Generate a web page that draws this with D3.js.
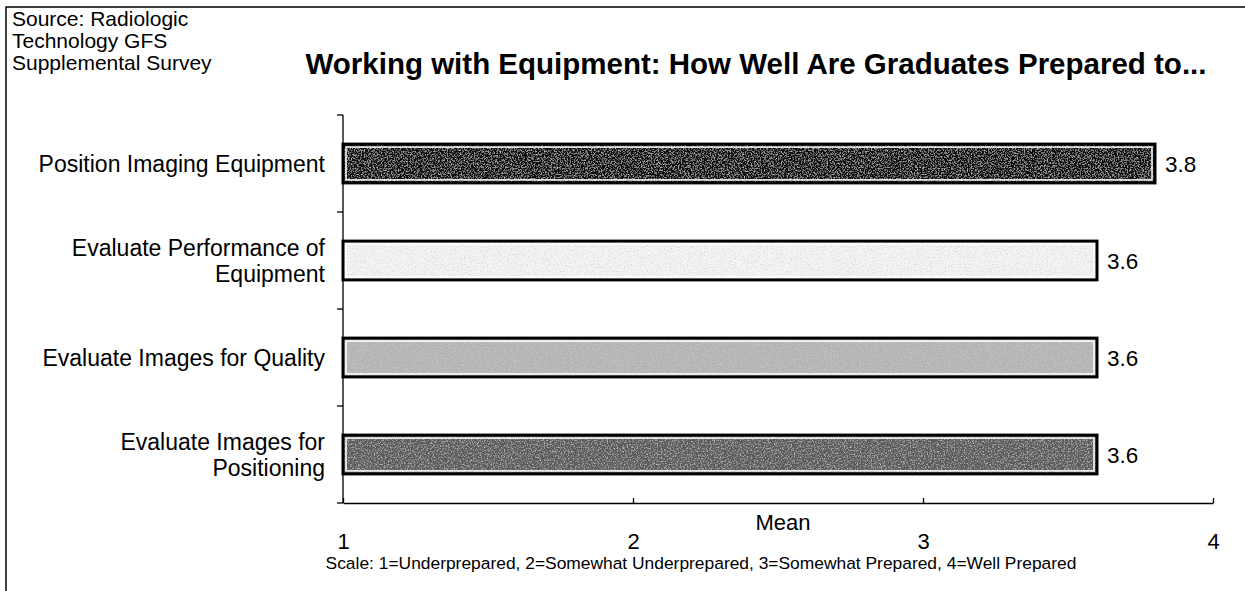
<!DOCTYPE html>
<html>
<head>
<meta charset="utf-8">
<script src="https://cdn.jsdelivr.net/npm/d3@7"></script>
<style>
  body { margin: 0; background: #fff; }
  svg { font-family: "Liberation Sans", Arial, sans-serif; }
</style>
</head>
<body>
<div id="chart"></div>
<script>
const WIDTH = 1245;
const HEIGHT = 591;
const MARGIN = { top: 115, right: 32, bottom: 88, left: 343 };

// chart data
const categories = [
  ["Position Imaging Equipment"],
  ["Evaluate Performance of", "Equipment"],
  ["Evaluate Images for Quality"],
  ["Evaluate Images for", "Positioning"]
];
const means = [3.8, 3.6, 3.6, 3.6];
const xTicks = [1, 2, 3, 4];
const barFills = ["#0e0e0e", "#f4f4f4", "#b4b4b4", "#5a5a5a"];
const sourceLines = ["Source: Radiologic", "Technology GFS", "Supplemental Survey"];
const TITLE = "Working with Equipment: How Well Are Graduates Prepared to...";
const X_LABEL = "Mean";
const NOTE = "Scale: 1=Underprepared, 2=Somewhat Underprepared, 3=Somewhat Prepared, 4=Well Prepared";

const svg = d3.select("#chart").append("svg")
  .attr("width", WIDTH)
  .attr("height", HEIGHT);

// speckle texture
const defs = svg.append("defs");
const f = defs.append("filter").attr("id", "speckle")
  .attr("x", 0).attr("y", 0).attr("width", 1).attr("height", 1);
f.append("feTurbulence").attr("type", "fractalNoise")
  .attr("baseFrequency", 0.7).attr("numOctaves", 3).attr("seed", 5).attr("result", "noise");
f.append("feColorMatrix").attr("in", "noise").attr("type", "matrix")
  .attr("values", "0 0 0 0 0.62  0 0 0 0 0.62  0 0 0 0 0.62  0 0 0 2.2 -1.05")
  .attr("result", "spots");
f.append("feComposite").attr("in", "spots").attr("in2", "SourceGraphic").attr("operator", "atop");

// frame (left + top only)
svg.append("path")
  .attr("d", `M6,${HEIGHT} V7 H${WIDTH}`)
  .attr("fill", "none").attr("stroke", "#000").attr("stroke-width", 1.5);

svg.append("g").selectAll("text")
  .data(sourceLines).join("text")
  .attr("x", 12).attr("y", (d, i) => 26 + i * 22)
  .attr("font-size", 21).text(d => d);

svg.append("text")
  .attr("x", 756).attr("y", 74)
  .attr("text-anchor", "middle")
  .attr("font-size", 29.5).attr("font-weight", "bold")
  .text(TITLE);

const innerH = HEIGHT - MARGIN.top - MARGIN.bottom;

const x = d3.scaleLinear().domain([1, 4]).range([MARGIN.left, MARGIN.left + 870]);
const y = d3.scaleBand().domain(d3.range(categories.length))
  .range([MARGIN.top, MARGIN.top + innerH]).paddingInner(0.6).paddingOuter(0.3);
const yBounds = d3.scaleLinear().domain([0, categories.length]).range([MARGIN.top, MARGIN.top + innerH]);

// y axis line with ticks on category boundaries
svg.append("line")
  .attr("x1", MARGIN.left).attr("x2", MARGIN.left)
  .attr("y1", MARGIN.top).attr("y2", MARGIN.top + innerH)
  .attr("stroke", "#000").attr("stroke-width", 1.3);
svg.append("g").selectAll("line")
  .data(d3.range(categories.length + 1)).join("line")
  .attr("x1", MARGIN.left - 6).attr("x2", MARGIN.left)
  .attr("y1", d => yBounds(d)).attr("y2", d => yBounds(d))
  .attr("stroke", "#000").attr("stroke-width", 1.3);

// x axis
const xAxis = svg.append("g")
  .attr("transform", `translate(0,${MARGIN.top + innerH})`)
  .call(d3.axisBottom(x).tickValues(xTicks).tickFormat(d3.format("d")).tickSizeInner(-5).tickSizeOuter(0));
xAxis.select(".domain").attr("stroke-width", 1.3);
xAxis.selectAll(".tick line").attr("stroke-width", 1.3);
xAxis.selectAll("text").attr("font-size", 22).attr("y", 46).attr("dy", 0)
  .attr("fill", "#000")
  .attr("font-family", "Liberation Sans, Arial, sans-serif");

svg.append("text")
  .attr("x", 783).attr("y", 530)
  .attr("text-anchor", "middle").attr("font-size", 22).text(X_LABEL);

svg.append("text")
  .attr("x", 701).attr("y", 569)
  .attr("text-anchor", "middle").attr("font-size", 17.4).text(NOTE);

// category labels
const labels = svg.append("g").selectAll("text")
  .data(categories).join("text")
  .attr("text-anchor", "end")
  .attr("font-size", 23);
labels.selectAll("tspan")
  .data((d, i) => d.map((t, j) => ({ t, j, n: d.length, i })))
  .join("tspan")
  .attr("x", 325)
  .attr("y", d => y(d.i) + y.bandwidth() / 2 + 8 + (d.j - (d.n - 1) / 2) * 26)
  .text(d => d.t);

// bars
const bars = svg.append("g").selectAll("g")
  .data(means).join("g");
bars.append("rect")
  .attr("x", x(1)).attr("y", (d, i) => y(i))
  .attr("width", d => x(d) - x(1)).attr("height", y.bandwidth())
  .attr("fill", (d, i) => barFills[i])
  .attr("filter", "url(#speckle)");
bars.append("rect")
  .attr("x", x(1)).attr("y", (d, i) => y(i))
  .attr("width", d => x(d) - x(1)).attr("height", y.bandwidth())
  .attr("fill", "none").attr("stroke", "#000").attr("stroke-width", 3);
bars.append("rect")
  .attr("x", x(1) + 3).attr("y", (d, i) => y(i) + 3)
  .attr("width", d => x(d) - x(1) - 6).attr("height", y.bandwidth() - 6)
  .attr("fill", "none").attr("stroke", "#fff").attr("stroke-width", 1.5);
bars.append("text")
  .attr("x", d => x(d) + 10)
  .attr("y", (d, i) => y(i) + y.bandwidth() / 2 + 8)
  .attr("font-size", 22.5)
  .text(d => d3.format(".1f")(d));
</script>
</body>
</html>
